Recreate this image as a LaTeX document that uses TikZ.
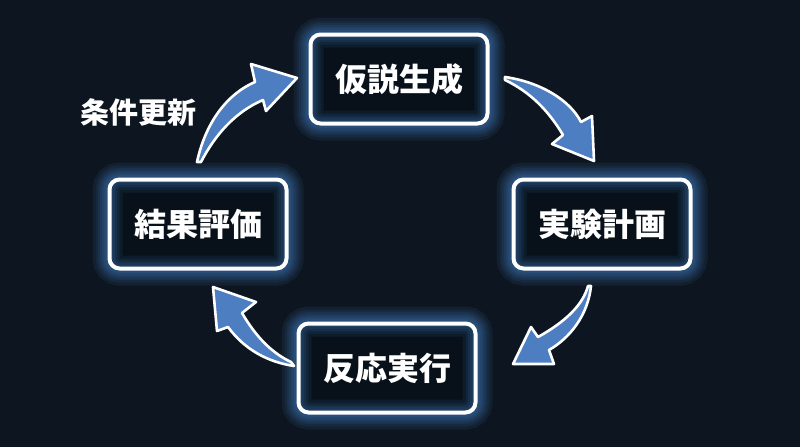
\documentclass[tikz,border=0pt]{standalone}
\usepackage{fontspec}
\newfontfamily\cjk{Noto Sans CJK JP}
\definecolor{bgc}{HTML}{0D1620}
\definecolor{boxc}{HTML}{08111A}
\definecolor{glowc}{HTML}{4A8EDC}
\definecolor{arrc}{HTML}{4D7EC2}
\pgfdeclarelayer{bglayer}
\pgfdeclarelayer{glowlayer}
\pgfsetlayers{bglayer,glowlayer,main}
\tikzset{
  stepbox/.style={draw=white, line width=4pt, rounded corners=10pt,
    minimum width=177pt, minimum height=89pt, text=white,
    font=\cjk\bfseries\fontsize{32}{36}\selectfont},
  lbl/.style={text=white, font=\cjk\bfseries\fontsize{29}{34}\selectfont},
  bigarrow/.style={fill=arrc, draw=white, line width=2.6pt, line join=round},
}
\newcommand{\glowbox}[1]{%
  \begin{pgfonlayer}{glowlayer}
    \fill[boxc, rounded corners=10pt] (#1.south west) rectangle (#1.north east);
    \foreach \w in {30,24,19,15,11,8,5} {
      \draw[glowc, opacity=0.09, line width=\w pt, rounded corners=12pt]
        (#1.south west) rectangle (#1.north east);
    }
  \end{pgfonlayer}}
\begin{document}
\begin{tikzpicture}[x=1pt,y=-1pt]
\begin{pgfonlayer}{bglayer}
  \fill[bgc] (0,0) rectangle (800,447);
\end{pgfonlayer}
\useasboundingbox (0,0) rectangle (800,447);

\node[stepbox] (hyp) at (399,79) {仮説生成};
\node[stepbox] (plan) at (602,224) {実験計画};
\node[stepbox] (eval) at (198,224) {結果評価};
\node[stepbox] (run) at (387,368) {反応実行};
\glowbox{hyp}\glowbox{plan}\glowbox{eval}\glowbox{run}

\node[lbl] (upd) at (138,112) {条件更新};

% arrow: hyp -> plan
\draw[bigarrow] (505,77) .. controls (540,82) and (570,100) .. (581,122)
  -- (592,116) -- (594,161) -- (552,144) -- (563,135)
  .. controls (548,110) and (530,92) .. (505,80) -- cycle;
% arrow: plan -> run
\draw[bigarrow] (591,286) .. controls (588,315) and (570,338) .. (549,350)
  -- (554,364) -- (513,364) -- (531,327) -- (538,337)
  .. controls (565,322) and (583,305) .. (588,286) -- cycle;
% arrow: run -> eval
\draw[bigarrow] (294,366) .. controls (268,362) and (245,350) .. (228,327)
  -- (217,331) -- (213,287) -- (256,302) -- (242,313)
  .. controls (255,335) and (270,352) .. (291,362) -- cycle;
% arrow: eval -> hyp
\draw[bigarrow] (197,162) .. controls (205,125) and (225,95) .. (255,82)
  -- (251,64) -- (297,78) -- (266,111) -- (263,100)
  .. controls (235,112) and (215,135) .. (201,162) -- cycle;
\end{tikzpicture}
\end{document}
